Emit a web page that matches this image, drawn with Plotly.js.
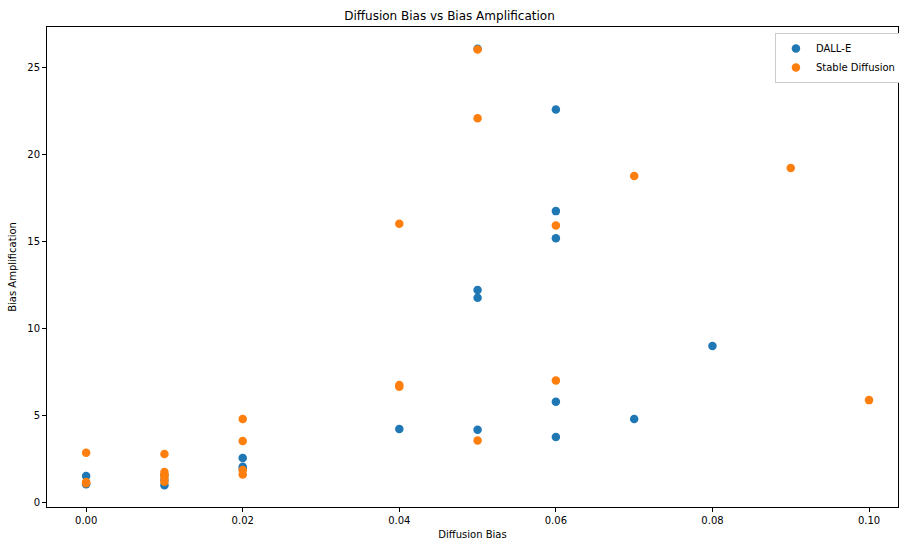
<!DOCTYPE html>
<html>
<head>
<meta charset="utf-8">
<script src="https://cdn.plot.ly/plotly-3.0.1.min.js"></script>
<style>html,body{margin:0;padding:0;background:#fff;}#chart{width:899px;height:540px;}</style>
</head>
<body>
<div id="chart"></div>
<script>
var dalleX = [0.00, 0.00, 0.01, 0.01, 0.01, 0.02, 0.02, 0.02, 0.04, 0.05, 0.05, 0.05, 0.05, 0.06, 0.06, 0.06, 0.06, 0.06, 0.07, 0.08];
var dalleY = [1.55, 1.07, 1.02, 1.32, 1.60, 2.58, 2.08, 1.95, 4.24, 26.05, 12.22, 11.77, 4.20, 22.57, 16.74, 15.18, 5.81, 3.78, 4.82, 9.00];
var sdX = [0.00, 0.00, 0.00, 0.01, 0.01, 0.01, 0.01, 0.01, 0.02, 0.02, 0.02, 0.02, 0.04, 0.04, 0.04, 0.05, 0.05, 0.05, 0.06, 0.06, 0.07, 0.09, 0.10];
var sdY = [2.88, 1.20, 1.13, 2.81, 1.78, 1.60, 1.45, 1.22, 4.82, 3.55, 1.89, 1.64, 16.02, 6.77, 6.67, 26.01, 22.06, 3.58, 15.92, 7.03, 18.75, 19.21, 5.90];
var seriesNames = ["DALL-E", "Stable Diffusion"];
var xTicks = [0, 0.02, 0.04, 0.06, 0.08, 0.10];
var yTicks = [0, 5, 10, 15, 20, 25];

var font = {family: "DejaVu Sans, sans-serif", size: 10, color: "#000"};
var traces = [
  {x: dalleX, y: dalleY, name: seriesNames[0], type: "scatter", mode: "markers",
   marker: {color: "#1f77b4", size: 8.5}},
  {x: sdX, y: sdY, name: seriesNames[1], type: "scatter", mode: "markers",
   marker: {color: "#ff7f0e", size: 8.5}}
];
var axisCommon = {showgrid: false, zeroline: false, showline: true, mirror: true,
  linecolor: "#000", linewidth: 1, ticks: "outside", ticklen: 4, tickcolor: "#000",
  tickfont: font, automargin: false};
var layout = {
  width: 899, height: 540,
  margin: {l: 47, r: 1, t: 27, b: 33, autoexpand: false},
  paper_bgcolor: "#fff", plot_bgcolor: "#fff",
  font: font,
  title: {text: "Diffusion Bias vs Bias Amplification", font: {family: "DejaVu Sans, sans-serif", size: 12, color: "#000"},
          x: 0.5, xref: "container", y: 0.97, yanchor: "middle"},
  xaxis: Object.assign({}, axisCommon, {range: [-0.005, 0.1037], tickvals: xTicks, tickformat: ".2f",
          title: {text: "Diffusion Bias", font: font, standoff: 6}}),
  yaxis: Object.assign({}, axisCommon, {range: [-0.23, 27.3], tickvals: yTicks,
          title: {text: "Bias Amplification", font: font, standoff: 8}}),
  showlegend: true,
  legend: {xref: "container", yref: "container", x: 0.862, y: 0.9389, xanchor: "left", yanchor: "top", bgcolor: "#fff",
           bordercolor: "#ccc", borderwidth: 1, font: font, itemwidth: 30, tracegroupgap: 0}
};
Plotly.newPlot("chart", traces, layout, {displayModeBar: false, staticPlot: true});
</script>
</body>
</html>
